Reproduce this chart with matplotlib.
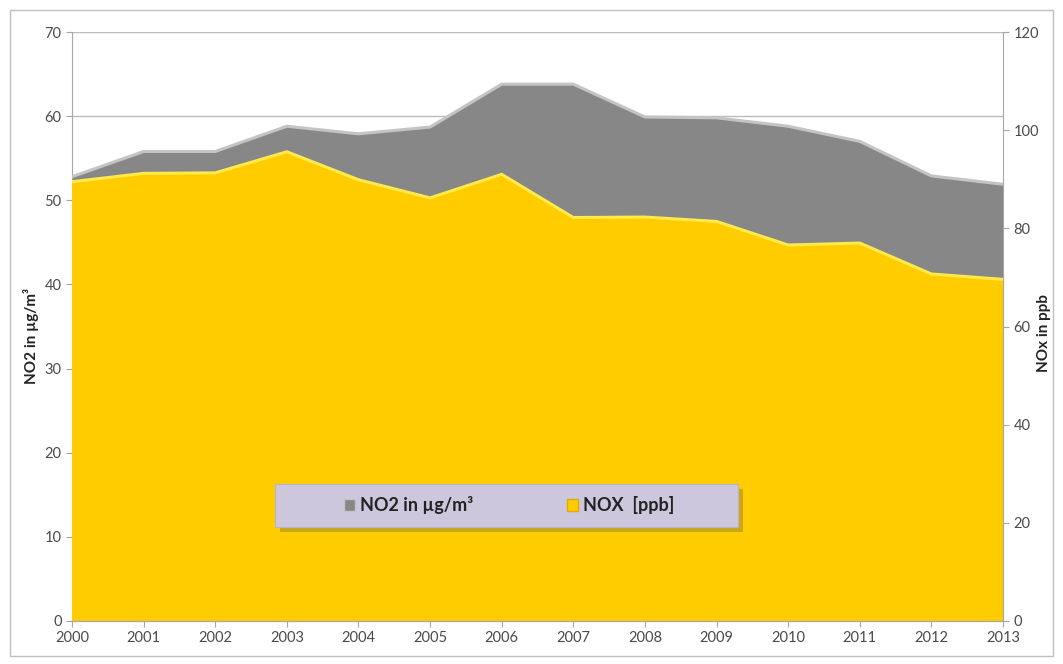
import matplotlib
matplotlib.use("Agg")
import matplotlib.pyplot as plt
from matplotlib.patches import Patch, Rectangle
import numpy as np

plt.rcParams['font.family'] = ['Lato', 'DejaVu Sans']

years = [2000, 2001, 2002, 2003, 2004, 2005, 2006, 2007, 2008, 2009, 2010, 2011, 2012, 2013]
no2 = [52.8, 55.8, 55.8, 58.8, 57.9, 58.7, 63.8, 63.8, 59.9, 59.8, 58.8, 57.0, 52.9, 51.9]
nox = [89.5, 91.2, 91.3, 95.6, 89.9, 86.2, 91.0, 82.2, 82.3, 81.4, 76.6, 77.0, 70.7, 69.6]
left_ticks = [0, 10, 20, 30, 40, 50, 60, 70]
right_ticks = [0, 20, 40, 60, 80, 100, 120]
labels = ["NO2 in µg/m³", "NOX  [ppb]"]

gray = "#878787"
gray_edge = "#c4c4c4"
yellow = "#ffcc00"
yellow_edge = "#ffea4a"
tick_color = "#4a4a4a"
axis_color = "#a6a6a6"

fig = plt.figure(figsize=(10.63, 6.64), dpi=100)
# outer frame
fig.patches.append(Rectangle((10/1063, 1-656/664), 1043/1063, 646/664, transform=fig.transFigure,
                             fill=False, edgecolor="#bfbfbf", linewidth=1.0))

ax = fig.add_axes([72/1063, 1-621/664, 931/1063, 589/664])
ax.set_xlim(years[0], years[-1])
ax.set_ylim(0, 70)
ax.set_yticks(left_ticks)
ax.set_xticks(years)
ax.grid(axis='y', color="#bcbcbc", linewidth=1.0)
ax.set_axisbelow(True)
ax.fill_between(years, no2, 0, facecolor=gray, edgecolor='none', zorder=2)
ax.plot(years, no2, color=gray_edge, linewidth=2.2, zorder=3, solid_joinstyle='round')

ax2 = ax.twinx()
ax2.set_ylim(0, 120)
ax2.set_yticks(right_ticks)
ax2.fill_between(years, nox, 0, facecolor=yellow, edgecolor='none', zorder=2)
ax2.plot(years, nox, color=yellow_edge, linewidth=2.2, zorder=3, solid_joinstyle='round')

for a in (ax, ax2):
    for s in a.spines.values():
        s.set_color(axis_color)
    a.spines['top'].set_visible(False)
    a.tick_params(colors=tick_color, labelsize=10.5, length=4, width=0.8)
    a.tick_params(axis='both', color=axis_color)
ax.spines['right'].set_visible(False)
ax2.spines['left'].set_visible(False)
ax.tick_params(axis='x', pad=3)

ax.set_ylabel("NO2 in µg/m³", fontsize=11, fontweight='bold', color="#222222")
ax.yaxis.set_label_coords((39-72)/931, 0.484)
ax2.set_ylabel("NOx in ppb", fontsize=11, fontweight='bold', color="#222222", rotation=90)
ax2.yaxis.set_label_coords((1037-72)/931, 0.489)

# legend box
x0 = (275-72)/931
w = 463/931
y0 = (621-527)/589
h = 43/589
shadow = Rectangle((x0+0.005, y0-0.008), w, h, transform=ax2.transAxes,
                   facecolor="#8a7a30", edgecolor='none', alpha=0.45, zorder=5)
box = Rectangle((x0, y0), w, h, transform=ax2.transAxes,
                facecolor="#cdc7de", edgecolor="#b8b2cc", linewidth=0.8, zorder=6)
ax2.add_patch(shadow)
ax2.add_patch(box)
handles = [Patch(facecolor=gray, edgecolor=gray_edge, linewidth=1.0),
           Patch(facecolor=yellow, edgecolor="#e8a800", linewidth=1.0)]
leg = ax2.legend(handles, labels, loc='center', bbox_to_anchor=(x0 + w/2 + 0.003, y0 + h/2),
                 ncol=2, frameon=False, handlelength=0.6, handleheight=0.6,
                 handletextpad=0.3, columnspacing=5.2,
                 prop={'weight': 'bold', 'size': 13})
leg.set_zorder(7)
for t in leg.get_texts():
    t.set_color("#222222")

fig.savefig("out.png", dpi=100, facecolor="white")
